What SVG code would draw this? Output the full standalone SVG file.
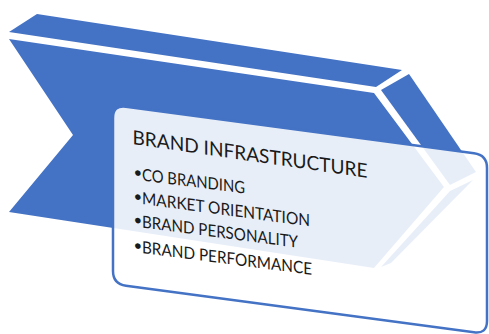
<svg xmlns="http://www.w3.org/2000/svg" width="489" height="334" viewBox="0 0 489 334">
<style>
.face{fill:#4472c4;}
.card{fill:#ffffff;fill-opacity:0.88;stroke:#4472c4;stroke-width:2.5;}
.t{font-family:Lato,"Open Sans","Liberation Sans",sans-serif;fill:#1a1a1a;}
.title{font-size:19.5px;}
.item{font-size:16.8px;}
.bul{font-size:15px;}
</style>
<rect width="489" height="334" fill="#ffffff"/>
<g id="chevron">
<polygon class="face" points="9,32 37,14 402,70 376,87"/>
<polygon class="face" points="9,39 374,93 444,187 374,268 9,212 73,135"/>
<polygon class="face" points="381,90 409,74 476,172 450,185"/>
<polygon class="face" points="381,267 450,191 473,180 391,263"/>
</g>
<g id="connectors"></g>
<g id="card">
<path class="card" d="M113,118 Q113,105 126,106.7 L474,153.3 Q487,155 487,168 L487,321 Q487,334 474,332.3 L126,285.7 Q113,284 113,271 Z"/>
<text class="t title" transform="translate(132.5,144) skewY(8.2)" textLength="235" lengthAdjust="spacingAndGlyphs">BRAND INFRASTRUCTURE</text>
<g transform="translate(142,180.5) skewY(7.2)">
<text class="t bul" x="-8.5" y="-2.5">•</text>
<text class="t item" textLength="103" lengthAdjust="spacingAndGlyphs">CO BRANDING</text>
</g>
<g transform="translate(142,204) skewY(7.6)">
<text class="t bul" x="-8.5" y="-2">•</text>
<text class="t item" textLength="168" lengthAdjust="spacingAndGlyphs">MARKET ORIENTATION</text>
</g>
<g transform="translate(142,227.5) skewY(7.4)">
<text class="t bul" x="-8.5" y="-2">•</text>
<text class="t item" textLength="156" lengthAdjust="spacingAndGlyphs">BRAND PERSONALITY</text>
</g>
<g transform="translate(142,253) skewY(7.3)">
<text class="t bul" x="-8.5" y="-2">•</text>
<text class="t item" textLength="170" lengthAdjust="spacingAndGlyphs">BRAND PERFORMANCE</text>
</g>
</g>
</svg>
